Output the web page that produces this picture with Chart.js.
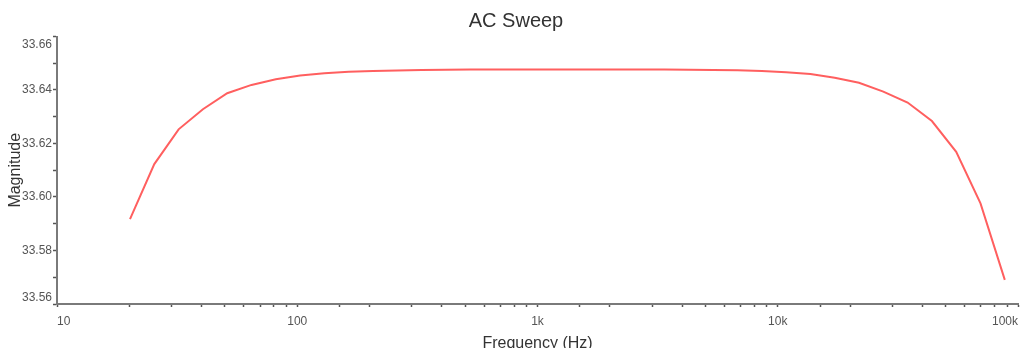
<!DOCTYPE html>
<html>
<head>
<meta charset="utf-8">
<script src="https://cdn.jsdelivr.net/npm/chart.js@4"></script>
<style>
html,body{margin:0;padding:0;background:#fff;overflow:hidden}
#wrap{width:1032px;height:348px;position:relative}
</style>
</head>
<body>
<div id="wrap"><canvas id="c" width="1032" height="348"></canvas></div>
<script>
const chartTitle = 'AC Sweep';
const xAxisTitle = 'Frequency (Hz)';
const yAxisTitle = 'Magnitude';

const frequencies = [
  20.13, 25.41, 32.08, 40.49, 51.11, 64.51, 81.43, 102.8, 129.7, 163.8,
  206.7, 260.9, 329.4, 415.7, 524.7, 662.3, 836.0, 1055, 1332, 1681,
  2122, 2679, 3381, 4268, 5387, 6800, 8583, 10834, 13675, 17261,
  21787, 27501, 34713, 43817, 55307, 69812, 88120
];
const magnitudes = [
  33.5917, 33.6123, 33.6253, 33.6328, 33.6388, 33.6419, 33.6440, 33.6454, 33.6463, 33.6468,
  33.6471, 33.6473, 33.6475, 33.6476, 33.6477, 33.6477, 33.6477, 33.6477, 33.6477, 33.6477,
  33.6477, 33.6477, 33.6477, 33.6476, 33.6475, 33.6474, 33.6471, 33.6466, 33.6460, 33.6446,
  33.6427, 33.6394, 33.6353, 33.6284, 33.6169, 33.5976, 33.5690
];

const xTickValues = [10, 100, 1000, 10000, 100000];
const xTickLabels = ['10', '100', '1k', '10k', '100k'];
const yTickLabels = ['33.56', '33.58', '33.60', '33.62', '33.64', '33.66'];
const yMin = 33.56, yMax = 33.66, yStep = 0.01;

Chart.defaults.font.family = '"Liberation Sans", Arial, sans-serif';

const points = frequencies.map((f, i) => ({x: f, y: magnitudes[i]}));

// keep the first/last tick labels inside the axis extent, as in the reference
const edgeLabels = {
  id: 'edgeLabels',
  beforeDraw(chart) {
    const xs = chart.scales.x, ys = chart.scales.y;
    if (xs && xs.getLabelItems) {
      xs.getLabelItems(chart.chartArea).forEach(it => {
        if (it._done) return;
        if (it.label === xTickLabels[0]) it.options.textAlign = 'left';
        if (it.label === xTickLabels[xTickLabels.length - 1]) it.options.textAlign = 'right';
        it._done = true;
      });
    }
    if (ys && ys.getLabelItems) {
      ys.getLabelItems(chart.chartArea).forEach(it => {
        if (it._done) return;
        if (it.label === yTickLabels[yTickLabels.length - 1]) it.options.translation[1] += 8;
        if (it.label === yTickLabels[0]) it.options.translation[1] -= 6;
        it._done = true;
      });
    }
  }
};

new Chart(document.getElementById('c'), {
  type: 'line',
  data: {
    datasets: [{
      data: points,
      borderColor: 'rgb(255,95,95)',
      borderWidth: 2,
      pointRadius: 0,
      tension: 0,
      fill: false
    }]
  },
  options: {
    responsive: false,
    devicePixelRatio: 1,
    animation: false,
    events: [],
    layout: {padding: 0},
    plugins: {
      legend: {display: false},
      tooltip: {enabled: false},
      title: {
        display: true,
        text: chartTitle,
        color: '#333',
        font: {size: 20, weight: 'normal'},
        padding: {top: 9, bottom: 3.5}
      }
    },
    scales: {
      x: {
        type: 'logarithmic',
        min: 10,
        max: 100000,
        afterFit: s => { s.height = 44; s.paddingRight = 14; s.paddingLeft = 0; },
        border: {display: true, color: '#7a7a7a', width: 2},
        grid: {display: true, drawOnChartArea: false, drawTicks: true, tickLength: 3,
               tickColor: '#555', tickWidth: 1.5},
        ticks: {
          autoSkip: false,
          maxRotation: 0,
          minRotation: 0,
          padding: 7,
          color: '#555',
          font: {size: 12},
          callback: (v) => {
            const k = xTickValues.findIndex(t => Math.abs(t - v) < 1e-6 * t);
            return k >= 0 ? xTickLabels[k] : '';
          }
        },
        title: {
          display: true,
          text: xAxisTitle,
          color: '#333',
          font: {size: 16},
          padding: {top: 0, bottom: -5}
        }
      },
      y: {
        type: 'linear',
        min: yMin,
        max: yMax,
        afterFit: s => { s.width = 57; },
        border: {display: true, color: '#7a7a7a', width: 2},
        grid: {display: true, drawOnChartArea: false, drawTicks: true, tickLength: 4,
               tickColor: '#555', tickWidth: 1.5},
        ticks: {
          stepSize: yStep,
          autoSkip: false,
          padding: 1,
          color: '#555',
          font: {size: 12},
          callback: (v) => {
            const s = Number(v).toFixed(2);
            return yTickLabels.includes(s) ? s : '';
          }
        },
        title: {
          display: true,
          text: yAxisTitle,
          color: '#333',
          font: {size: 16},
          padding: {top: 6.4, bottom: 0}
        }
      }
    }
  },
  plugins: [edgeLabels]
});
</script>
</body>
</html>
